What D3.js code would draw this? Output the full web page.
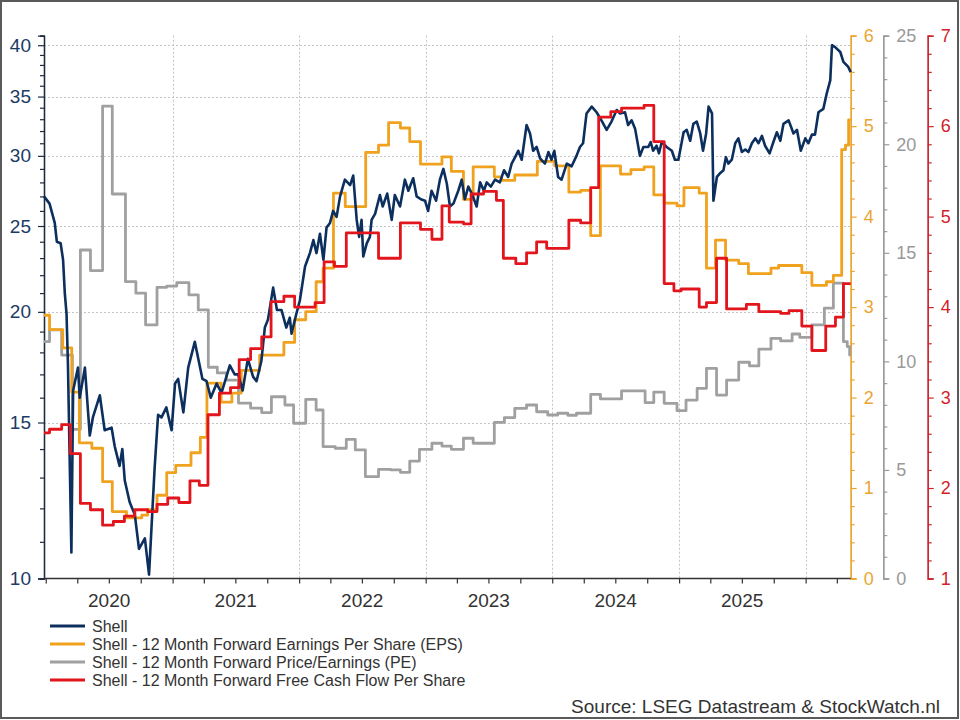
<!DOCTYPE html>
<html><head><meta charset="utf-8">
<script src="https://cdn.jsdelivr.net/npm/d3@7"></script>
<style>body{margin:0;background:#fff;} svg{display:block;font-family:Arial,"Liberation Sans",sans-serif;}</style>
</head><body><svg id="c" width="960" height="720"></svg>
<script>
// ---------- DATA ----------
const shell = [
["2019-12-27",27.0],["2020-01-12",26.5],["2020-01-27",25.2],["2020-02-02",24.0],["2020-02-13",23.9],["2020-02-20",22.9],["2020-02-25",21.0],["2020-03-01",19.9],["2020-03-05",17.5],["2020-03-15",10.7],["2020-03-20",16.3],["2020-04-03",17.3],["2020-04-08",16.0],["2020-04-23",17.3],["2020-05-07",14.5],["2020-05-16",15.2],["2020-06-05",16.1],["2020-06-19",14.7],["2020-07-09",14.8],["2020-07-18",14.1],["2020-08-01",13.4],["2020-08-09",14.0],["2020-08-16",12.9],["2020-08-30",12.2],["2020-09-14",11.8],["2020-09-26",10.8],["2020-10-13",11.1],["2020-10-25",10.1],["2020-11-10",13.3],["2020-11-20",15.3],["2020-11-30",15.2],["2020-12-14",15.6],["2020-12-29",14.7],
["2021-01-08",16.6],["2021-01-17",16.8],["2021-02-01",15.4],["2021-02-15",17.3],["2021-03-06",18.5],["2021-03-28",16.8],["2021-04-09",16.7],["2021-04-21",16.0],["2021-05-08",16.6],["2021-05-22",16.2],["2021-06-15",17.4],["2021-06-29",17.0],["2021-07-09",17.0],["2021-07-22",16.3],["2021-08-06",17.7],["2021-08-21",16.9],["2021-08-31",16.7],["2021-09-14",17.6],["2021-09-24",19.2],["2021-10-03",19.6],["2021-10-18",21.3],["2021-10-29",20.1],["2021-11-11",20.1],["2021-11-25",19.2],["2021-12-05",19.7],["2021-12-10",18.9],["2021-12-24",19.9],
["2022-01-03",20.6],["2022-01-18",22.5],["2022-02-01",23.3],["2022-02-11",24.1],["2022-02-20",23.3],["2022-03-02",24.5],["2022-03-12",22.9],["2022-03-21",24.9],["2022-03-31",25.2],["2022-04-09",26.0],["2022-04-19",25.6],["2022-04-29",27.0],["2022-05-13",28.2],["2022-05-28",27.8],["2022-06-06",28.5],["2022-06-16",25.4],["2022-06-23",24.3],["2022-06-30",25.4],["2022-07-05",23.1],["2022-07-15",23.9],["2022-07-24",24.3],["2022-07-29",25.4],["2022-08-08",25.8],["2022-08-22",27.1],["2022-08-30",26.3],["2022-09-12",27.2],["2022-09-25",25.4],["2022-10-04",27.1],["2022-10-19",26.3],["2022-11-02",28.2],["2022-11-12",27.4],["2022-11-26",28.3],["2022-12-06",27.0],["2022-12-18",26.8],["2022-12-30",26.7],
["2023-01-08",26.0],["2023-01-18",27.4],["2023-01-31",26.7],["2023-02-11",28.2],["2023-02-21",29.0],["2023-03-03",27.9],["2023-03-12",26.3],["2023-03-22",26.5],["2023-04-05",27.4],["2023-04-15",28.2],["2023-04-24",26.8],["2023-05-04",27.7],["2023-05-14",27.2],["2023-05-28",26.3],["2023-06-07",28.0],["2023-06-18",27.4],["2023-06-26",28.0],["2023-07-08",27.7],["2023-07-20",28.2],["2023-08-03",28.0],["2023-08-15",28.9],["2023-08-27",28.4],["2023-09-06",29.4],["2023-09-16",29.9],["2023-09-25",30.4],["2023-10-05",29.7],["2023-10-19",32.5],["2023-10-29",31.8],["2023-11-07",30.4],["2023-11-17",30.7],["2023-11-27",29.8],["2023-12-11",29.4],["2023-12-21",30.3],["2023-12-30",29.7],
["2024-01-07",30.4],["2024-01-18",28.4],["2024-01-28",28.2],["2024-02-12",29.4],["2024-02-26",29.2],["2024-03-11",30.0],["2024-03-21",30.7],["2024-03-30",31.0],["2024-04-09",33.5],["2024-04-24",34.1],["2024-05-08",33.6],["2024-05-22",32.9],["2024-06-06",32.1],["2024-06-20",32.8],["2024-07-05",33.8],["2024-07-14",33.5],["2024-07-29",33.6],["2024-08-07",32.5],["2024-08-17",32.9],["2024-08-27",32.2],["2024-09-10",30.0],["2024-09-20",30.7],["2024-10-04",30.7],["2024-10-11",31.1],["2024-10-18",30.4],["2024-10-28",30.8],["2024-11-04",30.2],["2024-11-12",31.1],["2024-11-26",30.7],["2024-12-11",30.4],["2024-12-20",29.7],["2024-12-30",29.7],
["2025-01-14",31.9],["2025-01-23",32.1],["2025-02-02",31.2],["2025-02-11",32.6],["2025-02-21",32.8],["2025-03-03",31.8],["2025-03-11",30.4],["2025-03-20",31.8],["2025-03-27",34.1],["2025-04-06",33.5],["2025-04-10",26.7],["2025-04-20",28.4],["2025-04-30",28.7],["2025-05-09",28.9],["2025-05-16",29.9],["2025-05-23",29.4],["2025-06-02",29.7],["2025-06-12",31.0],["2025-06-21",31.4],["2025-07-01",30.3],["2025-07-11",30.5],["2025-07-20",30.3],["2025-07-30",31.0],["2025-08-09",31.4],["2025-08-18",31.0],["2025-08-28",31.6],["2025-09-06",30.8],["2025-09-19",30.2],["2025-09-30",31.1],["2025-10-10",31.9],["2025-10-20",31.2],["2025-10-29",32.6],["2025-11-13",32.9],["2025-11-27",31.8],["2025-12-07",32.1],["2025-12-18",30.4],["2025-12-31",31.4],
["2026-01-09",31.0],["2026-01-19",31.7],["2026-01-28",31.7],["2026-02-07",33.6],["2026-02-21",33.9],["2026-03-03",35.3],["2026-03-13",36.5],["2026-03-18",40.0],["2026-03-27",39.8],["2026-04-11",39.3],["2026-04-20",38.3],["2026-05-04",37.8],["2026-05-11",37.3]
];
// 12M forward EPS (step changes)
const eps = [
["2019-12-27",2.91],["2020-01-12",2.75],["2020-02-19",2.55],["2020-03-16",2.06],["2020-04-07",1.50],["2020-05-13",1.44],["2020-06-13",1.07],["2020-07-11",0.74],["2020-08-21",0.67],["2020-10-04",0.70],["2020-10-21",0.76],["2020-11-17",0.92],["2020-12-15",1.17],
["2021-01-10",1.25],["2021-02-23",1.39],["2021-03-22",1.56],["2021-04-10",2.16],["2021-05-21",1.95],["2021-06-21",2.05],["2021-07-18",2.30],["2021-09-09",2.47],["2021-11-18",2.61],["2021-12-19",2.86],
["2022-01-20",2.95],["2022-02-19",3.28],["2022-03-11",3.43],["2022-04-10",4.26],["2022-05-14",4.11],["2022-07-12",4.71],["2022-08-18",4.79],["2022-09-16",5.04],["2022-10-20",4.98],["2022-11-16",4.83],["2022-12-17",4.58],
["2023-02-17",4.66],["2023-03-16",4.50],["2023-04-20",4.19],["2023-05-18",4.55],["2023-07-18",4.44],["2023-08-08",4.40],["2023-09-15",4.46],["2023-11-19",4.61],
["2024-01-08",4.56],["2024-02-18",4.27],["2024-03-23",4.29],["2024-04-21",3.79],["2024-05-19",4.56],["2024-07-16",4.47],["2024-08-15",4.52],["2024-09-22",4.55],["2024-10-20",4.24],["2024-11-19",4.15],["2024-12-26",4.12],
["2025-01-15",4.32],["2025-02-28",4.26],["2025-03-21",3.43],["2025-04-16",3.74],["2025-05-15",3.52],["2025-06-22",3.48],["2025-07-20",3.37],["2025-09-23",3.43],["2025-10-15",3.46],["2025-12-21",3.38],
["2026-01-19",3.24],["2026-03-02",3.28],["2026-03-22",3.35],["2026-04-15",4.74],["2026-04-26",4.79],["2026-05-05",5.07],["2026-05-11",5.07]
];
// 12M forward P/E (step changes)
const pe = [
["2019-12-27",10.91],["2020-01-12",11.45],["2020-02-16",10.29],["2020-03-18",6.87],["2020-04-10",15.13],["2020-05-09",14.18],["2020-06-13",21.76],["2020-07-11",17.71],["2020-08-18",13.67],["2020-09-17",13.14],["2020-10-15",11.68],["2020-11-17",13.41],["2020-12-15",13.47],
["2021-01-13",13.63],["2021-02-17",13.06],["2021-03-16",12.37],["2021-04-14",9.73],["2021-05-10",9.47],["2021-06-05",9.14],["2021-07-10",8.08],["2021-08-14",7.85],["2021-09-15",7.64],["2021-10-13",8.37],["2021-11-21",7.99],["2021-12-16",7.15],
["2022-01-20",8.25],["2022-02-19",7.76],["2022-03-11",6.07],["2022-04-15",6.00],["2022-05-17",6.41],["2022-06-12",5.92],["2022-07-11",4.69],["2022-08-18",5.03],["2022-09-22",5.00],["2022-10-20",4.89],["2022-11-16",5.41],["2022-12-14",5.95],
["2023-01-19",6.23],["2023-02-17",6.10],["2023-03-16",5.95],["2023-04-20",6.46],["2023-05-18",6.23],["2023-07-18",7.19],["2023-08-16",7.41],["2023-09-15",7.84],["2023-10-19",7.99],["2023-11-17",7.68],["2023-12-19",7.53],
["2024-01-17",7.61],["2024-02-15",7.52],["2024-03-11",7.61],["2024-04-21",8.48],["2024-05-19",8.27],["2024-07-19",8.64],["2024-09-25",8.10],["2024-10-20",8.58],["2024-11-19",8.07],["2024-12-26",7.73],
["2025-01-21",8.22],["2025-02-22",8.76],["2025-03-21",9.68],["2025-04-19",8.45],["2025-05-18",9.14],["2025-06-22",9.96],["2025-07-23",9.79],["2025-08-19",10.56],["2025-09-23",11.06],["2025-10-21",10.94],["2025-11-23",11.26],["2025-12-15",11.11],
["2026-01-19",11.68],["2026-02-24",12.45],["2026-03-22",13.60],["2026-04-20",10.91],["2026-05-01",10.68],["2026-05-08",10.29],["2026-05-11",10.29]
];
// 12M forward free cash flow per share (step changes)
const fcf = [
["2019-12-27",2.61],["2020-01-12",2.65],["2020-02-16",2.70],["2020-03-12",2.38],["2020-04-10",1.83],["2020-05-09",1.76],["2020-06-13",1.59],["2020-07-14",1.63],["2020-08-15",1.69],["2020-09-14",1.76],["2020-10-21",1.74],["2020-11-17",1.82],["2020-12-18",1.89],
["2021-01-19",1.84],["2021-02-20",2.08],["2021-03-19",2.03],["2021-04-13",2.81],["2021-05-16",3.05],["2021-06-17",3.11],["2021-07-12",3.42],["2021-08-14",3.54],["2021-09-15",3.67],["2021-10-12",4.06],["2021-11-18",4.12],["2021-12-19",4.00],
["2022-02-16",4.05],["2022-03-14",4.50],["2022-04-13",4.45],["2022-05-17",4.82],["2022-08-18",4.54],["2022-10-20",4.93],["2022-12-17",4.86],
["2023-01-19",4.75],["2023-02-17",5.12],["2023-03-10",4.94],["2023-04-20",4.92],["2023-05-12",5.25],["2023-06-17",5.28],["2023-07-24",5.18],["2023-08-13",4.54],["2023-09-18",4.48],["2023-10-19",4.60],["2023-11-17",4.72],["2023-12-16",4.65],
["2024-02-18",4.96],["2024-03-23",4.93],["2024-04-21",5.32],["2024-05-14",6.10],["2024-06-18",6.16],["2024-07-19",6.20],["2024-09-22",6.23],["2024-10-20",5.83],["2024-11-19",4.26],["2024-12-17",4.18],
["2025-01-07",4.20],["2025-02-28",4.00],["2025-03-21",4.05],["2025-04-19",4.54],["2025-05-18",3.98],["2025-07-14",4.03],["2025-08-19",3.95],["2025-10-21",3.93],["2025-11-14",3.96],["2025-12-21",3.79],
["2026-01-19",3.52],["2026-02-28",3.79],["2026-03-28",3.89],["2026-04-20",4.26],["2026-05-11",4.26]
];
const leftTicks = [10,15,20,25,30,35,40];
const epsTicks = [0,1,2,3,4,5,6];
const peTicks = [0,5,10,15,20,25];
const fcfTicks = [1,2,3,4,5,6,7];
const yearLabels = ["2020","2021","2022","2023","2024","2025"];
const legendLabels = ["Shell","Shell - 12 Month Forward Earnings Per Share (EPS)","Shell - 12 Month Forward Price/Earnings (PE)","Shell - 12 Month Forward Free Cash Flow Per Share"];
const sourceText = "Source: LSEG Datastream & StockWatch.nl";

// ---------- STYLE ----------
const C = {navy:"#0c2f5e", orange:"#f0a21e", gray:"#a0a0a0", red:"#e2141c"};
const legendColors = [C.navy, C.orange, C.gray, C.red];

const svg = d3.select("#c");
const parse = d3.timeParse("%Y-%m-%d");
const L = 44, R = 850.7, T = 35.7, B = 578.5;

const x = d3.scaleTime().domain([parse("2019-12-27"), parse("2026-05-11")]).range([L, R]);
const yL = d3.scaleLog().domain([10, 41]).range([B, T]);
const yE = d3.scaleLinear().domain([0, 6]).range([B, T]);
const yP = d3.scaleLinear().domain([0, 25]).range([B, T]);
const yF = d3.scaleLinear().domain([1, 7]).range([B, T]);

// outer frame
svg.append("rect").attr("x",1).attr("y",1).attr("width",957).attr("height",717)
  .attr("fill","#fff").attr("stroke","#5a5a5a").attr("stroke-width",2);

// grid
const grid = svg.append("g").attr("stroke","#c4c4c4").attr("stroke-width",1).attr("stroke-dasharray","2,2");
grid.selectAll("line.h").data(leftTicks.filter(d=>d>10)).join("line")
  .attr("x1",L).attr("x2",R).attr("y1",d=>Math.round(yL(d))+0.5).attr("y2",d=>Math.round(yL(d))+0.5);
const yearStarts = d3.timeYear.range(parse("2021-01-01"), parse("2026-01-02"));
grid.selectAll("line.v").data(yearStarts).join("line")
  .attr("x1",d=>Math.round(x(d))+0.5).attr("x2",d=>Math.round(x(d))+0.5).attr("y1",T).attr("y2",B);

// axes helper
function styleAxis(g, color, fs, textColor){
  g.select(".domain").attr("stroke",color).attr("stroke-width",1.3);
  g.selectAll(".tick line").attr("stroke",color).attr("stroke-width",1.2);
  g.selectAll(".tick text").attr("fill",textColor||color).attr("font-size",fs)
    .attr("font-family","Arial, 'Liberation Sans', sans-serif");
}
// left log axis
const leftMinor = d3.range(11,42).filter(d=>!leftTicks.includes(d));
const gLm = svg.append("g").attr("transform",`translate(${L},0)`)
  .call(d3.axisLeft(yL).tickValues(leftMinor).tickSize(4).tickFormat(""));
styleAxis(gLm,"#1d2b40",0);
const gL = svg.append("g").attr("transform",`translate(${L},0)`)
  .call(d3.axisLeft(yL).tickValues(leftTicks).tickSize(6).tickPadding(7).tickFormat(d3.format("d")));
styleAxis(gL,"#1d2b40",19,"#1c3a63");

// right axes
function rightAxis(scale, xpos, majors, minors, color, textColor, fmt){
  const gm = svg.append("g").attr("transform",`translate(${xpos},0)`)
    .call(d3.axisRight(scale).tickValues(minors).tickSize(4).tickFormat(""));
  styleAxis(gm,color,0);
  const g = svg.append("g").attr("transform",`translate(${xpos},0)`)
    .call(d3.axisRight(scale).tickValues(majors).tickSize(6).tickPadding(7).tickFormat(fmt));
  styleAxis(g,color,18,textColor);
}
rightAxis(yE, R, epsTicks, d3.range(0,6.01,0.2).map(d=>+d.toFixed(1)).filter(d=>!epsTicks.includes(d)), "#e9a430", "#eaa533", d3.format("d"));
rightAxis(yP, 883.3, peTicks, d3.range(0,26,1).filter(d=>!peTicks.includes(d)), "#9a9a9a", "#999999", d3.format("d"));
rightAxis(yF, 927.7, fcfTicks, d3.range(1,7.01,0.2).map(d=>+d.toFixed(1)).filter(d=>!fcfTicks.includes(d)), "#c9262e", "#d21f2a", d3.format("d"));

// bottom axis
const gB = svg.append("g").attr("transform",`translate(0,${B})`)
  .call(d3.axisBottom(x).ticks(d3.timeMonth.every(3)).tickSize(5).tickFormat(""));
styleAxis(gB,"#333",0);
gB.select(".domain").attr("d",`M${L},0H${R}`);
svg.append("g").selectAll("text").data(yearLabels).join("text")
  .attr("x",d=>x(parse(d+"-07-02"))).attr("y",606.5).attr("text-anchor","middle")
  .attr("font-size",19).attr("fill","#333").text(d=>d);

// lines
const lineShell = d3.line().x(d=>x(parse(d[0]))).y(d=>yL(d[1]));
const stepLine = s => d3.line().curve(d3.curveStepAfter).x(d=>x(parse(d[0]))).y(d=>s(d[1]));
const lines = svg.append("g").attr("fill","none").attr("stroke-linejoin","round");
lines.append("path").datum(pe).attr("d",stepLine(yP)).attr("stroke",C.gray).attr("stroke-width",2.8);
lines.append("path").datum(eps).attr("d",stepLine(yE)).attr("stroke",C.orange).attr("stroke-width",2.8);
lines.append("path").datum(shell).attr("d",lineShell).attr("stroke",C.navy).attr("stroke-width",2.6);
lines.append("path").datum(fcf).attr("d",stepLine(yF)).attr("stroke",C.red).attr("stroke-width",2.8);

// legend
const lg = svg.append("g").selectAll("g").data(legendLabels).join("g")
  .attr("transform",(d,i)=>`translate(50,${626+i*18})`);
lg.append("line").attr("x1",0).attr("x2",35).attr("y1",0).attr("y2",0)
  .attr("stroke",(d,i)=>legendColors[i]).attr("stroke-width",3);
lg.append("text").attr("x",42).attr("y",6).attr("font-size",16).attr("fill","#333").text(d=>d);

// source
svg.append("text").attr("x",940).attr("y",713).attr("text-anchor","end")
  .attr("font-size",19).attr("fill","#333").text(sourceText);
</script></body></html>
